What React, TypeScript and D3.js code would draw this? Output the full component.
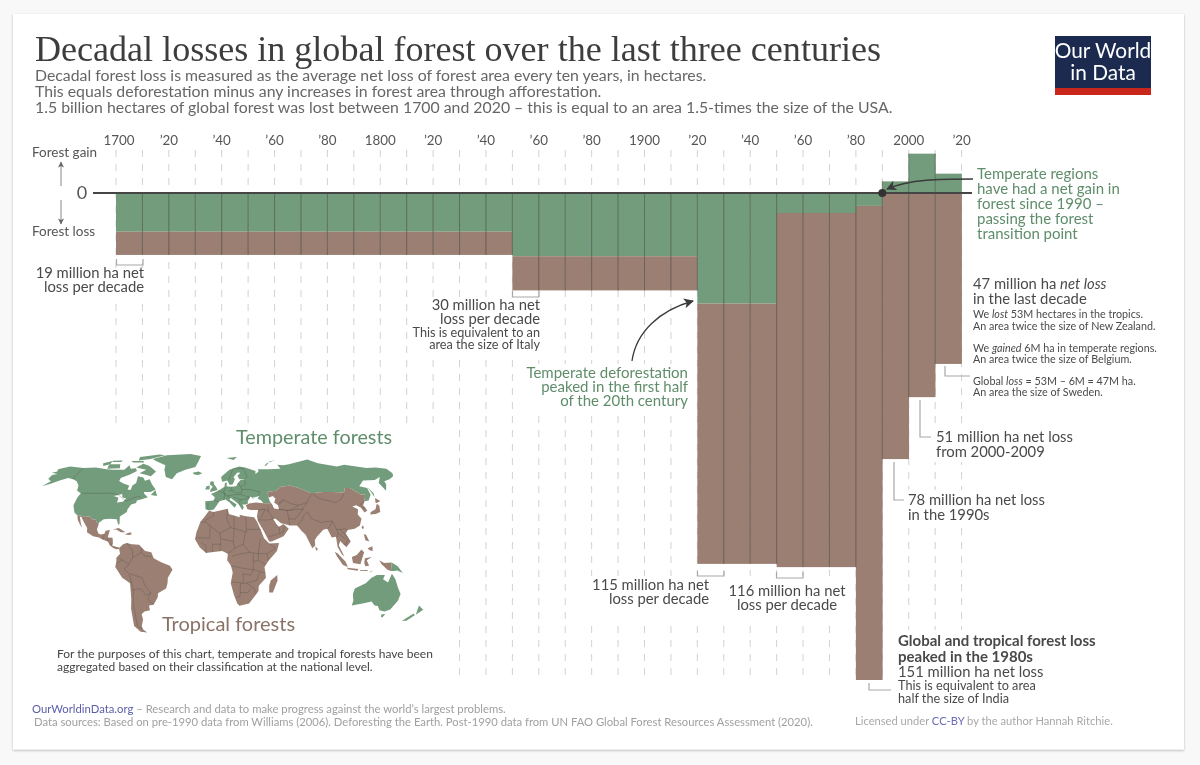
import React from "react";
import * as d3 from "d3";

// ---------- DATA (million hectares per decade) ----------
const decadeStarts = [1700,1710,1720,1730,1740,1750,1760,1770,1780,1790,1800,1810,1820,1830,1840,1850,1860,1870,1880,1890,1900,1910,1920,1930,1940,1950,1960,1970,1980,1990,2000,2010];
// Temperate net change: negative = loss, positive = gain
const temperateChange = [-12,-12,-12,-12,-12,-12,-12,-12,-12,-12,-12,-12,-12,-12,-12,-19.6,-19.6,-19.6,-19.6,-19.6,-19.6,-19.6,-34.3,-34.3,-34.3,-6.2,-6.2,-6.2,-4,3.6,12.2,6];
const tropicalLoss = [7.2,7.2,7.2,7.2,7.2,7.2,7.2,7.2,7.2,7.2,7.2,7.2,7.2,7.2,7.2,10.6,10.6,10.6,10.6,10.6,10.6,10.6,80.7,80.7,80.7,109.8,109.8,109.8,147,82.5,63.3,53];
const tickYears = [1700,1720,1740,1760,1780,1800,1820,1840,1860,1880,1900,1920,1940,1960,1980,2000,2020];
const tickLabels = ["1700","’20","’40","’60","’80","1800","’20","’40","’60","’80","1900","’20","’40","’60","’80","2000","’20"];
const gridYears = [1700,1710,1720,1730,1740,1750,1760,1770,1780,1790,1800,1810,1820,1830,1840,1850,1860,1870,1880,1890,1900,1910,1920,1930,1940,1950,1960,1970,1980,1990,2000,2010,2020];

const subtitleLines = [
  "Decadal forest loss is measured as the average net loss of forest area every ten years, in hectares.",
  "This equals deforestation minus any increases in forest area through afforestation.",
  "1.5 billion hectares of global forest was lost between 1700 and 2020 – this is equal to an area 1.5-times the size of the USA.",
];

// ---------- MAP OUTLINES (lon, lat) ----------
type LL = number[][];
const temperateLand: LL[] = [
  [[-168,65.5],[-164,66.5],[-166,68.5],[-157,71],[-141,69.7],[-128,70],[-115,68.5],[-108,68],[-96,68],[-94,72],[-90,69],[-85,69.5],[-82,67],[-87,64],[-94,61],[-94,58.7],[-88,56.5],[-82,55],[-82,52],[-79,51.5],[-79,55],[-76.5,57],[-78,62.5],[-72,61.5],[-69,58.8],[-65,60],[-61,56],[-56,52],[-60,50],[-66,50],[-65,48.5],[-61,46],[-66,44.5],[-70,43.5],[-70,41.7],[-74,40.5],[-76,37],[-76,35],[-81,31.5],[-80,26],[-81,25.5],[-83,29.5],[-89,30],[-94,29.5],[-97.3,27],[-97.2,26],[-99.5,27.5],[-101,29.7],[-103,29],[-106.5,31.8],[-111,31.3],[-114.8,32.5],[-117.2,32.5],[-120.5,34.5],[-124,40],[-124,46],[-123,49],[-128,51],[-130,55],[-135,58.5],[-140,60],[-146,61],[-152,59],[-158,56.5],[-164,54.5],[-160,58.5],[-165,60.5],[-165,63.5],[-161,64.5]],
  [[-80,73.5],[-72,71.5],[-62,66.5],[-65,62.5],[-72,64],[-78,65],[-73,68],[-85,70]],
  [[-117,73],[-105,73],[-102,69.5],[-115,69]],
  [[-90,80],[-70,83],[-62,82],[-76,78],[-88,76.5]],
  [[-125,74],[-117,76],[-116,73],[-122,71.5]],
  [[-96,76],[-82,76],[-80,74.5],[-92,74.5]],
  [[-117,76.3],[-106,76.5],[-106,75],[-116,75]],
  [[-59,47.7],[-56,51.5],[-53,47]],
  [[-73,78],[-60,82],[-32,83.5],[-18,81],[-20,75],[-22,70.5],[-32,68],[-40,65],[-43,60],[-50,62],[-54,68],[-55,72],[-68,76]],
  [[-24,65.5],[-18,66.5],[-14,65],[-18,63.5],[-22,64]],
  [[-9,37],[-9.5,43],[-2,43.5],[-1,46],[-4.5,48.5],[2,51],[8,54],[8.5,57],[10.5,57.5],[10,54.5],[14,54],[19,54.5],[21,57],[24,59.5],[30,60],[23,60],[21.5,63],[25,65.5],[22,65.7],[17.5,62],[18.5,60],[16,56],[13,55.5],[11,59],[6,58],[5,62],[14,68],[25,71],[31,70],[41,67],[40,64.5],[44,66.5],[44,68.5],[55,68.5],[68,69],[67,72.5],[73,72],[80,73],[105,77.5],[113,74],[130,71],[140,72.5],[160,69.7],[170,70],[180,69],[180,65],[177,62.5],[170,60],[163,58.5],[162,56],[156.7,51],[156,57],[163,62],[155,59.5],[143,59],[135,54.5],[141,53],[140,48],[135,43.5],[131,43],[135,48],[131,48],[125,53],[120,53],[117,49.5],[107,50],[98,50],[87,49],[77,53],[70,55],[61,54],[55,51],[47,50],[47,48],[47,45.5],[47.5,43],[48,41.5],[41.5,41.5],[40,43.5],[37,45],[39,47],[35,46],[33,46],[34,44.5],[31,46.5],[28,43],[28,41.2],[26,40.5],[23,40.5],[24,38],[22.5,36.5],[19.5,41],[13,45.5],[12,44],[18,40.5],[16,38],[12,42],[8.5,44.3],[3,43],[0,39],[-2,36.8],[-5.5,36]],
  [[-5.5,50],[1.5,51.5],[0,54],[-2,56],[-2,58],[-5,58.5],[-6,56],[-3,54],[-5,52]],
  [[-10,52],[-6,52],[-6,55],[-9,54.5]],
  [[12,79],[25,80],[20,77]],
  [[52,71],[56,74],[68,77],[60,75.5],[55,72]],
  [[142,54],[143.5,49],[142,46],[142,50]],
  [[141,-2.6],[146,-5.5],[150.7,-10.5],[146,-8.5],[143,-9],[141,-9]],
  [[114,-22],[122,-18],[126,-14],[130,-12],[136.5,-12],[135.5,-15],[140,-17.5],[142,-11],[145.5,-15],[149,-21],[153,-26],[153,-31],[150,-37.5],[146,-39],[141,-38],[138,-35],[135,-34.5],[131,-31.5],[124,-33],[115.5,-34.5],[115.5,-31],[113.5,-26]],
  [[144.7,-41],[148,-41],[147,-43.5],[145.5,-43]],
  [[172.7,-34.5],[178.5,-37.7],[175,-41.5],[174,-39]],
  [[172.5,-40.6],[174.3,-41.8],[170.5,-46],[166.5,-46]],
];
const tropicalLand: LL[] = [
  [[-117.2,32.5],[-114.8,32.5],[-111,31.3],[-106.5,31.8],[-103,29],[-101,29.7],[-99.5,27.5],[-97.2,26],[-97.8,22],[-96,19],[-94,18.2],[-91,18.8],[-90.5,21],[-87,21.5],[-88,16],[-84,15.8],[-83.3,12],[-83.7,10],[-80,9],[-77.5,8.6],[-78,7.5],[-80.5,7.3],[-83,8.3],[-85.5,10],[-87.5,13],[-92,14.5],[-95,16],[-100,17],[-105.5,20],[-106,23],[-110,27.5],[-113,31],[-114.7,31.5],[-112,26],[-110,23],[-112,25],[-115.5,29]],
  [[-85,22],[-80,23],[-74,20],[-77.7,19.9],[-82,22]],
  [[-74.5,18.5],[-70,19.9],[-68.5,18.5],[-71.5,17.8]],
  [[-77.5,8.6],[-75,11],[-72,12],[-68,11],[-62,10.7],[-57,6],[-52,5],[-50,0.5],[-44,-2.5],[-37,-5],[-35,-8],[-39,-14],[-39.5,-18],[-41,-22],[-48,-25.5],[-48.6,-28.5],[-53,-34],[-57,-34.5],[-57,-38],[-62,-39],[-65,-41],[-65,-45],[-68,-50],[-68,-52.5],[-65,-55],[-71,-54.5],[-75,-50],[-73.5,-42],[-73,-37],[-71,-30],[-70,-18],[-76,-14],[-81,-6],[-80,-2],[-80,1],[-77,4],[-78,7.5]],
  [[-6,35.8],[-2,35],[10,37.3],[11,33.5],[15,32.3],[20,31],[20,32.8],[25,31.7],[32,31],[34,28],[37,21],[39,15.5],[43,11.5],[51,12],[49,6],[42,-1.5],[39,-6],[40.5,-14],[35,-20],[35,-24],[32.8,-27],[28,-33],[20,-34.8],[18,-33],[15,-27],[12,-18],[13.5,-10],[12,-5],[9,-1],[9.5,4],[5,6],[-4,5],[-8,4.5],[-13,8.5],[-17,14.7],[-16,20],[-13,27.5],[-9.5,31.5]],
  [[49.5,-12],[50,-16],[47,-25],[44,-25],[43.5,-20],[44.5,-16]],
  [[26,40],[29,41.2],[35,42],[41.5,41.5],[48,41.5],[47.5,43],[47,45.5],[47,48],[47,50],[55,51],[61,54],[70,55],[77,53],[87,49],[98,50],[107,50],[117,49.5],[120,53],[125,53],[131,48],[135,48],[131,43],[128,40],[129.5,36],[126.5,34.5],[125,38],[122,40],[118,39],[122,37],[120,33],[122,30],[119,25],[114,22.5],[108,21.5],[106,19],[109,13],[105,8.8],[100.5,13.5],[99,10],[103,2],[101,3.5],[98,9],[97.5,16.5],[94,16],[91.5,22.5],[88,21.7],[82,16.5],[80,14],[80,10],[77.5,8],[73,18],[70,21],[67,25],[61,25],[57,26],[54,26.5],[50,30],[48,30],[50,26],[52,24],[56,26],[59.8,22.5],[55,17],[45,13],[43,13],[39,21],[35,28],[34.5,31.5],[36,36.5],[30,36.5],[27,37]],
  [[130.5,33],[135.5,33.5],[140,35],[141.8,39.5],[140.5,41],[137,37],[132,35]],
  [[140,42],[142,45.4],[145,43.2],[141,41.6]],
  [[121,25],[122,24],[120.8,22],[120,23.5]],
  [[120.5,18.5],[122.3,18],[124,13],[121,14]],
  [[122,8],[126,9.5],[126,6],[123.5,6.5]],
  [[80,9.5],[82,7.5],[80.5,6]],
  [[95.5,5.5],[98,4],[104,-2],[106,-6],[102,-4.5],[97,2]],
  [[105.5,-6.5],[114.5,-7.5],[114,-8.7],[106,-7.7]],
  [[109,1.5],[113,3],[117,7],[119,5],[117.5,1],[116,-4],[110,-3]],
  [[119.5,0.5],[125,1.5],[121,-1],[123,-5],[120,-5.5],[119,-3]],
  [[131,-1],[135,-3],[141,-2.6],[141,-9],[138,-8],[133,-4]],
  [[124,-9.5],[127,-8.5],[124,-10]],
  [[116,-8.3],[122,-8.2],[122,-9],[116,-9]],
];
const inlandWater: LL[] = [
  [[47,45.5],[51,47],[53,45],[51,42],[54,40],[54,37],[50,37.5],[49,40.5],[47.5,43]],
  [[-92,47],[-85,48.5],[-84,46],[-80,45],[-82,42.5],[-87,42],[-87,45.5]],
];
const borders: LL[] = [
  [[-123,49],[-95,49],[-89,48],[-83,45],[-79,43],[-75,45],[-69,47],[-67,45]],[[-141,69.7],[-141,60]],
  [[-13,27.5],[-8.7,27.5],[-8.7,29],[-2,32],[-2,35]],[[-8.7,27.5],[3,19],[12,23.5],[25,20],[25,31.7]],[[25,22],[37,22]],[[10,37],[9,30],[12,23.5]],[[15,23],[15,32.3]],[[3,19],[4,15],[14,13],[15,23]],[[24,20],[22,11],[27,5],[34,4],[36,15]],[[-16,16],[-5,15.5],[-5,25]],[[14,13],[15,8],[9.5,4]],[[3,6],[4,15]],[[-3,5],[-3,11],[4,11]],[[-8,4.5],[-8,10],[-12,12]],[[15,8],[22,11]],[[13,2],[18,3.5],[27,5]],[[30,4],[30,-8],[28,-12],[22,-11],[22,-18],[13,-17]],[[12,-5],[22,-7],[30,-8]],[[34,4],[34,-1],[40,-4]],[[34,-1],[30,-2]],[[42,-1.5],[41,4],[34,4]],[[41,4],[48,8]],[[43,11.5],[48,8]],[[30,-8],[40,-10.5]],[[22,-18],[25,-18],[33,-16],[35,-10]],[[20,-18],[20,-28],[17,-28.5]],[[25,-18],[32,-22.5],[32,-26]],[[20,-25],[26,-25],[29,-22]],
  [[-72,12],[-67,6],[-67,1],[-70,-4],[-74,-7.5],[-70,-11],[-69,-17],[-70,-18]],[[-60,8],[-60,5],[-57,2],[-52,2]],[[-67,1],[-60,5]],[[-78,1],[-70,-4]],[[-80,-3],[-75,-1]],[[-69,-11],[-60,-14],[-58,-20],[-54,-25],[-57,-30],[-53,-34]],[[-69,-17],[-68,-23],[-70,-33],[-72,-50],[-68,-52.5]],[[-68,-23],[-62,-22],[-58,-27],[-54,-25]],
  [[-92,14.5],[-91,18]],[[-88,16],[-87.5,13]],[[-83.5,11],[-85.5,11]],
  [[61,25],[61,30],[61,36],[54,37]],[[48,30],[45,35],[44.5,39]],[[36,36.5],[42,37],[45,35]],[[35,29],[39,32],[42,37]],[[48,30],[44,29],[35,29]],[[52,24],[52,19],[45,17],[43,17]],[[52,19],[55,20],[56,24]],[[61,30],[66,29.5],[70,33],[75,37],[71,37],[61,36]],[[67,25],[71,28],[74,32],[78,35],[80,30],[88,27],[92,28],[97,28],[94,24],[91.5,22.5]],[[74,37],[80,42],[87,49]],[[97,28],[99,22],[102,22],[106,22.5],[108,21.5]],[[87,49],[92,45],[105,42],[112,45],[117,49.5]],[[54,40],[60,44],[55,41.5]],[[54,37],[62,36],[66,37],[72,40],[80,42]],[[60,44],[66,41],[72,40]],[[99,22],[100,19],[98,16]],[[102,22],[105,18],[107,15],[105,11],[103,11]],[[100,19],[105,15]],[[125,40],[131,43]],[[126,38],[129,38]],
  [[-2,43.5],[3,42.5]],[[-7,42],[-7,37]],[[2,51],[8,49],[7,44]],[[9,54],[7,50],[8,48],[10,47]],[[14,54],[15,51],[18,49.5],[23,49],[24,52],[23,54],[21,57]],[[10,47],[17,48],[22,48],[30,46],[28,45],[22,44],[20,42],[21,40]],[[24,52],[31,52],[40,50],[38,47]],[[23,54],[28,56],[28,60]],[[12,59],[18,69],[29,69],[31,62],[28,60]],[[16,46],[22,44]],[[12,51],[15,51]],[[10,47],[13,45.5]],
];

// ---------- COLOURS ----------
const GREEN = "#739c7b";
const BROWN = "#9a7f72";
const GREEN_TEXT = "#5f8d6b";
const TXT = "#4a4a4a";

// ---------- SCALES ----------
const x = d3.scaleLinear().domain([1700, 2020]).range([116, 961.6]);
const y = d3.scaleLinear().domain([0, 151]).range([193, 680]);
const decadeW = x(1710) - x(1700);

const mapProjection = d3
  .geoProjection((l: number, p: number) => {
    const [a, b] = (d3 as any).geoNaturalEarth1Raw(l, p);
    return [a, b * 0.93];
  })
  .scale(82)
  .translate([216, 559]);
const pointsOf = (ring: LL) => ring.map((c) => mapProjection(c as [number, number]) as [number, number]);
const closed = d3.line().curve(d3.curveLinearClosed);
const open = d3.line();

// White patches that keep the gridlines away from the annotation blocks
const gridMasks = [
  [30, 268, 117, 30],
  [408, 298, 134, 55],
  [522, 364, 170, 46],
  [585, 576, 265, 45],
  [892, 630, 210, 75],
  [934, 428, 142, 34],
  [906, 490, 142, 35],
];

type TP = { x: number; y: number; size?: number; anchor?: string; fill?: string; weight?: number; children?: React.ReactNode };
const T = ({ x, y, size = 14.8, anchor = "start", fill = TXT, weight = 400, children }: TP) => (
  <text x={x} y={y} fontSize={size} textAnchor={anchor as any} fill={fill} fontWeight={weight}>
    {children}
  </text>
);

const Bracket = ({ d }: { d: string }) => <path d={d} fill="none" stroke="#a8a8a8" strokeWidth={1.2} />;

export default function App() {
  return (
    <svg width={1200} height={765} viewBox="0 0 1200 765"
      style={{ position: "absolute", left: 0, top: 0, display: "block" }}
      fontFamily="Lato, sans-serif">
      <defs>
        <marker id="head" viewBox="0 0 10 10" refX="9" refY="5" markerWidth="7" markerHeight="6" orient="auto" markerUnits="userSpaceOnUse">
          <path d="M0,0 L10,5 L0,10 L2.5,5 Z" fill="#666" />
        </marker>
        <marker id="bigHead" viewBox="0 0 10 10" refX="9" refY="5" markerWidth="15" markerHeight="10" orient="auto" markerUnits="userSpaceOnUse">
          <path d="M0,0 L10,5 L0,10 L2.5,5 Z" fill="#3a3a3a" />
        </marker>
        <filter id="card" x="-2%" y="-2%" width="104%" height="104%">
          <feDropShadow dx="0" dy="1" stdDeviation="1.2" floodColor="#000" floodOpacity="0.28" />
        </filter>
        <filter id="soft"><feGaussianBlur stdDeviation="0.35" /></filter>
      </defs>

      <rect x={0} y={0} width={1200} height={765} fill="#f8f8f8" />
      <rect x={13} y={14} width={1171} height={735.5} fill="#fff" filter="url(#card)" />

      <g filter="url(#soft)">
        {/* Title block */}
        <text x={35} y={61} fontFamily="'Liberation Serif', serif" fontSize={36} fill="#3d3d3d"
          textLength={846} lengthAdjust="spacingAndGlyphs">
          Decadal losses in global forest over the last three centuries
        </text>
        {subtitleLines.map((s, i) => (
          <text key={i} x={35} y={81 + i * 16.2} fontSize={15.84} fill="#666">{s}</text>
        ))}

        {/* Logo */}
        <rect x={1055} y={36} width={96} height={59} fill="#1a2b4f" />
        <rect x={1055} y={88} width={96} height={7} fill="#c9261c" />
        <text x={1103} y={58} textAnchor="middle" fontSize={20.8} fill="#fff">Our World</text>
        <text x={1103} y={80} textAnchor="middle" fontSize={20.8} fill="#fff">in Data</text>

        {/* Dashed decade gridlines */}
        {gridYears.map((yr) => (
          <line key={yr} x1={x(yr)} x2={x(yr)} y1={150} y2={680} stroke="#d2d2d2" strokeWidth={1} strokeDasharray="7 7" />
        ))}
        {gridMasks.map(([mx, my, mw, mh], i) => (
          <rect key={i} x={mx} y={my} width={mw} height={mh} fill="#fff" />
        ))}

        {/* Tick labels */}
        {tickYears.map((yr, i) => (
          <text key={yr} x={yr === 1700 ? x(yr) + 3 : x(yr)} y={145} textAnchor="middle" fontSize={13.4} fill="#555">
            {tickLabels[i]}
          </text>
        ))}

        {/* Bars */}
        {decadeStarts.map((yr, i) => {
          const t = temperateChange[i];
          const lossTop = t < 0 ? -t : 0;
          return (
            <g key={yr}>
              <rect x={x(yr)} width={decadeW + 0.3} y={t < 0 ? y(0) : y(0) - (y(t) - y(0))} height={Math.abs(y(t) - y(0))} fill={GREEN} />
              <rect x={x(yr)} width={decadeW + 0.3} y={y(lossTop)} height={y(lossTop + tropicalLoss[i]) - y(lossTop)} fill={BROWN} />
              {i > 0 && (
                <line x1={x(yr)} x2={x(yr)}
                  y1={t > 0 || temperateChange[i - 1] > 0 ? y(0) - (y(Math.max(t, temperateChange[i - 1])) - y(0)) : y(0)}
                  y2={y(Math.min(lossTop + tropicalLoss[i], Math.abs(Math.min(temperateChange[i - 1], 0)) + tropicalLoss[i - 1]))}
                  stroke="#3d3d3d" strokeOpacity={0.5} strokeWidth={1} />
              )}
            </g>
          );
        })}

        {/* Zero line and axis hints */}
        <line x1={93} x2={972} y1={y(0)} y2={y(0)} stroke="#454545" strokeWidth={1.8} />
        <text x={82} y={199} textAnchor="middle" fontSize={18} fill="#555">0</text>
        <T x={32} y={157} size={13.5} fill="#555">Forest gain</T>
        <T x={32} y={236} size={13.5} fill="#555">Forest loss</T>
        <line x1={61} x2={61} y1={186} y2={162} stroke="#888" strokeWidth={1} markerEnd="url(#head)" />
        <line x1={61} x2={61} y1={200} y2={224} stroke="#888" strokeWidth={1} markerEnd="url(#head)" />

        {/* Forest transition marker */}
        <circle cx={x(1990)} cy={y(0)} r={4} fill="#333" />
        <path d="M973,179 C940,179 910,179 887,189" fill="none" stroke="#3a3a3a" strokeWidth={1.3} markerEnd="url(#bigHead)" />
        <T x={977} y={179} size={15} fill={GREEN_TEXT}>Temperate regions</T>
        <T x={977} y={194} size={15} fill={GREEN_TEXT}>have had a net gain in</T>
        <T x={977} y={209} size={15} fill={GREEN_TEXT}>forest since 1990 –</T>
        <T x={977} y={224} size={15} fill={GREEN_TEXT}>passing the forest</T>
        <T x={977} y={239} size={15} fill={GREEN_TEXT}>transition point</T>

        {/* Left annotations */}
        <Bracket d="M116.5,259 V265 H143 V259" />
        <T x={144} y={278} anchor="end">19 million ha net</T>
        <T x={144} y={292} anchor="end">loss per decade</T>

        <Bracket d="M512.5,291 V297 H539 V291" />
        <T x={540} y={310} anchor="end">30 million ha net</T>
        <T x={540} y={324} anchor="end">loss per decade</T>
        <T x={540} y={337} anchor="end" size={12.7}>This is equivalent to an</T>
        <T x={540} y={349} anchor="end" size={12.7}>area the size of Italy</T>

        <path d="M632,361 C636,332 660,310 693,301" fill="none" stroke="#3a3a3a" strokeWidth={1.3} markerEnd="url(#bigHead)" />
        <T x={688} y={378} anchor="end" size={15} fill={GREEN_TEXT}>Temperate deforestation</T>
        <T x={688} y={392} anchor="end" size={15} fill={GREEN_TEXT}>peaked in the first half</T>
        <T x={688} y={406} anchor="end" size={15} fill={GREEN_TEXT}>of the 20th century</T>

        <Bracket d="M697.5,571 V576 H724 V571" />
        <T x={709} y={590} anchor="end">115 million ha net</T>
        <T x={709} y={604} anchor="end">loss per decade</T>
        <Bracket d="M776.5,572 V578 H803 V572" />
        <T x={787} y={596} anchor="middle">116 million ha net</T>
        <T x={787} y={610} anchor="middle">loss per decade</T>

        {/* Right annotations */}
        <T x={973} y={289}>47 million ha <tspan fontStyle="italic">net loss</tspan></T>
        <T x={973} y={304}>in the last decade</T>
        <T x={973} y={318} size={10.75}>We <tspan fontStyle="italic">lost</tspan> 53M hectares in the tropics.</T>
        <T x={973} y={330} size={10.75}>An area twice the size of New Zealand.</T>
        <T x={973} y={352} size={10.75}>We <tspan fontStyle="italic">gained</tspan> 6M ha in temperate regions.</T>
        <T x={973} y={363} size={10.75}>An area twice the size of Belgium.</T>
        <Bracket d="M945,366 V376 H970" />
        <T x={973} y={385} size={10.75}>Global <tspan fontStyle="italic">loss</tspan> = 53M – 6M = 47M ha.</T>
        <T x={973} y={396} size={10.75}>An area the size of Sweden.</T>

        <Bracket d="M920,400 V437 H931" />
        <T x={936} y={442}>51 million ha net loss</T>
        <T x={936} y={457}>from 2000-2009</T>
        <Bracket d="M894,462 V500 H904" />
        <T x={908} y={505}>78 million ha net loss</T>
        <T x={908} y={520}>in the 1990s</T>

        <Bracket d="M869,683 V690 H891" />
        <T x={898} y={646} size={15} weight={700}>Global and tropical forest loss</T>
        <T x={898} y={662} size={15} weight={700}>peaked in the 1980s</T>
        <T x={898} y={677}>151 million ha net loss</T>
        <T x={898} y={690} size={12.7}>This is equivalent to area</T>
        <T x={898} y={703} size={12.7}>half the size of India</T>

        {/* Map panel covers the gridlines */}
        <rect x={28} y={424} width={424} height={256} fill="#fff" />
        <g>
          {temperateLand.map((r, i) => <path key={i} d={closed(pointsOf(r)) as string} fill={GREEN} />)}
          {tropicalLand.map((r, i) => <path key={i} d={closed(pointsOf(r)) as string} fill={BROWN} />)}
          {inlandWater.map((r, i) => <path key={i} d={closed(pointsOf(r)) as string} fill="#fff" />)}
          {borders.map((r, i) => <path key={i} d={open(pointsOf(r)) as string} fill="none" stroke="#4a4a42" strokeOpacity={0.55} strokeWidth={0.55} />)}
        </g>
        <T x={236} y={444} size={19.8} fill={GREEN_TEXT}>Temperate forests</T>
        <T x={162} y={631} size={20} fill="#8a7267">Tropical forests</T>
        <T x={57} y={658} size={12} fill="#444">For the purposes of this chart, temperate and tropical forests have been</T>
        <T x={57} y={671} size={12} fill="#444">aggregated based on their classification at the national level.</T>

        {/* Footer */}
        <text x={32} y={713} fontSize={11.3} fill="#a0a0a0">
          <tspan fill="#5b5ea8">OurWorldinData.org</tspan> – Research and data to make progress against the world’s largest problems.
        </text>
        <text x={34} y={726} fontSize={11.24} fill="#a0a0a0">
          Data sources: Based on pre-1990 data from Williams (2006). Deforesting the Earth. Post-1990 data from UN FAO Global Forest Resources Assessment (2020).
        </text>
        <text x={855} y={725} fontSize={11.17} fill="#a8a8a8">
          Licensed under <tspan fill="#6a6db5">CC-BY</tspan> by the author Hannah Ritchie.
        </text>
      </g>
    </svg>
  );
}
